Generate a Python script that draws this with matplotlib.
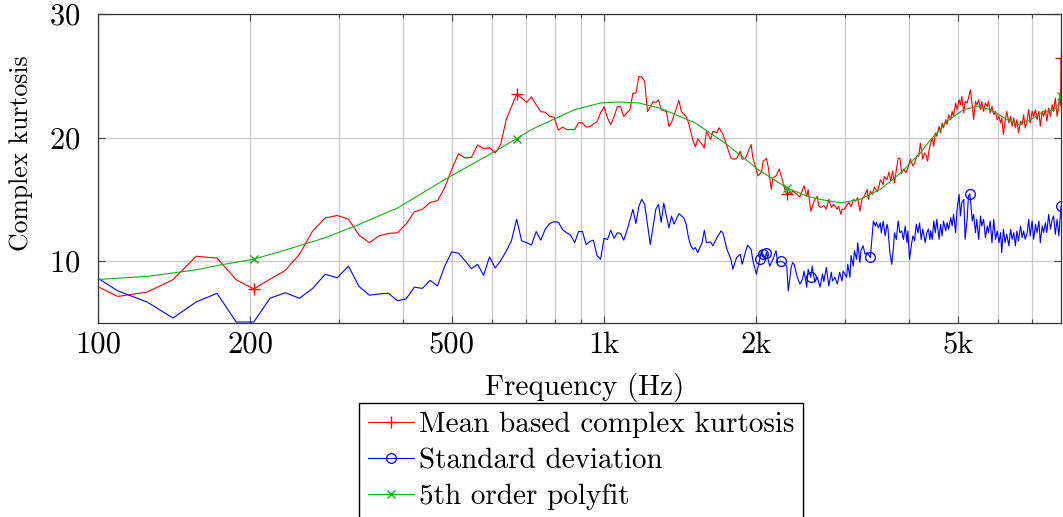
import numpy as np
import matplotlib
matplotlib.use("Agg")
import matplotlib.pyplot as plt

plt.rcParams["font.family"] = ["cmr10", "DejaVu Serif"]
plt.rcParams["axes.formatter.use_mathtext"] = True

BIN_HZ = 15.625  # spectrum bin width

# mean based complex kurtosis (bin index, value)
red_bins = [6, 7, 8, 9, 10, 11, 12, 13, 14, 15, 16, 17, 18, 19, 20, 21, 22, 23, 24, 25,
            26, 27, 28, 29, 30, 31, 32, 33, 34, 35, 36, 37, 38, 39, 40, 41, 42, 43, 44, 45,
            46, 47, 48, 49, 50, 51, 52, 53, 54, 55, 56, 57, 58, 59, 60, 61, 62, 63, 64, 65,
            66, 67, 68, 69, 70, 71, 72, 73, 74, 75, 76, 77, 78, 79, 80, 81, 82, 83, 84, 85,
            86, 87, 90, 91, 93, 94, 96, 97, 98, 100, 101, 102, 104, 105, 107, 108, 109, 110, 112, 114,
            115, 117, 119, 120, 122, 123, 125, 126, 128, 129, 131, 132, 134, 135, 137, 138, 140, 142, 144, 145,
            147, 149, 150, 151, 154, 156, 159, 161, 162, 164, 167, 169, 170, 172, 174, 176, 178, 180, 182, 185,
            186, 188, 189, 191, 193, 195, 197, 199, 201, 203, 205, 207, 209, 212, 213, 215, 217, 219, 222, 224,
            225, 228, 229, 232, 234, 236, 238, 240, 242, 244, 246, 248, 250, 253, 255, 258, 261, 263, 266, 268,
            270, 273, 275, 277, 279, 281, 283, 285, 287, 289, 291, 294, 296, 298, 300, 303, 305, 307, 310, 312,
            314, 317, 319, 322, 324, 326, 329, 331, 334, 336, 339, 342, 344, 347, 349, 352, 355, 357, 360, 363,
            366, 368, 371, 374, 377, 380, 383, 386, 389, 391, 394, 397, 400, 404, 407, 410, 413, 416, 419, 422,
            426, 429, 432, 435, 439, 442, 445, 449, 452, 456, 459, 463, 466, 470, 473, 477, 480, 484, 488, 492,
            495, 499, 503, 507, 510, 511, 512]
red_vals = [8.5, 7.15, 7.5, 8.5, 10.4, 10.25, 8.5, 7.75, 8.55, 9.25, 10.55, 12.45, 13.5, 13.7, 13.4, 12.1, 11.5, 12.05, 12.25, 12.3,
            13.0, 14.0, 14.2, 14.75, 14.9, 15.95, 17.4, 18.7, 18.35, 18.4, 19.4, 19.1, 19.2, 18.75, 19.45, 21.45, 22.5, 23.5, 23.2, 22.85,
            23.3, 22.65, 22.1, 22.05, 21.7, 21.65, 20.6, 20.85, 20.65, 20.65, 20.65, 21.2, 21.2, 20.85, 20.9, 21.1, 21.3, 22.0, 22.5, 21.6,
            21.05, 21.7, 22.5, 22.5, 21.7, 22.0, 22.25, 23.6, 23.6, 24.95, 24.9, 24.55, 22.1, 22.5, 22.9, 22.85, 23.05, 22.25, 22.2, 22.1,
            20.9, 21.2, 23.0, 22.1, 21.7, 21.2, 19.7, 19.25, 19.9, 19.45, 19.15, 20.5, 19.85, 20.5, 20.4, 20.8, 20.5, 20.25, 19.3, 18.35,
            18.25, 18.3, 18.9, 18.25, 18.35, 18.75, 19.45, 18.35, 17.4, 16.9, 17.2, 18.1, 18.3, 17.7, 15.8, 16.75, 16.9, 17.45, 16.6, 16.1,
            15.4, 15.6, 15.4, 15.7, 15.4, 15.2, 16.1, 15.25, 15.8, 14.05, 15.0, 15.25, 14.45, 14.35, 14.5, 14.2, 15.0, 14.35, 14.6, 14.2,
            14.45, 13.8, 14.2, 14.2, 14.5, 14.75, 14.4, 15.0, 14.85, 15.15, 14.05, 15.0, 15.25, 15.8, 15.0, 15.65, 15.4, 16.0, 15.65, 16.2,
            16.6, 16.2, 16.85, 16.6, 17.2, 16.5, 17.3, 16.35, 17.4, 18.3, 18.35, 17.1, 17.45, 17.15, 17.55, 18.25, 17.7, 17.95, 18.55, 18.5,
            19.55, 18.25, 18.75, 18.6, 18.1, 19.05, 19.57, 19.97, 19.3, 20.38, 20.1, 20.91, 20.38, 21.18, 20.78, 21.45, 21.05, 21.85, 21.45, 22.12,
            21.72, 22.8, 22.26, 23.06, 22.66, 23.33, 21.99, 22.93, 22.8, 23.2, 23.87, 22.53, 21.45, 22.93, 22.66, 23.06, 22.26, 22.93, 22.12, 22.8,
            22.53, 22.93, 21.99, 22.53, 21.85, 22.12, 21.45, 21.72, 21.18, 21.59, 20.24, 21.32, 22.12, 21.18, 21.72, 20.91, 21.59, 20.78, 21.45, 20.38,
            21.32, 21.05, 21.85, 20.78, 21.45, 22.26, 21.18, 22.12, 21.72, 22.26, 21.45, 22.12, 20.91, 22.12, 21.72, 22.26, 21.32, 22.39, 21.72, 22.66,
            22.12, 23.2, 21.72, 22.53, 23.6, 22.6, 26.4]

# standard deviation
blue_bins = [6, 7, 8, 9, 10, 11, 12, 13, 14, 15, 16, 17, 18, 19, 20, 21, 22, 23, 24, 25,
             26, 27, 28, 29, 30, 31, 32, 33, 34, 35, 36, 37, 38, 39, 40, 41, 42, 43, 44, 45,
             46, 47, 48, 49, 50, 51, 52, 53, 54, 55, 56, 57, 58, 59, 60, 61, 62, 63, 64, 65,
             66, 67, 68, 69, 70, 71, 73, 74, 75, 76, 77, 79, 81, 82, 83, 84, 85, 86, 87, 88,
             90, 92, 93, 94, 95, 96, 97, 98, 100, 101, 102, 104, 105, 107, 109, 110, 112, 114, 115, 117,
             119, 120, 122, 123, 125, 126, 128, 130, 131, 132, 133, 134, 136, 138, 140, 141, 143, 145, 147, 148,
             150, 151, 152, 154, 156, 158, 159, 161, 162, 164, 165, 167, 169, 171, 173, 174, 176, 178, 180, 181,
             183, 185, 187, 189, 190, 193, 194, 196, 197, 199, 200, 202, 203, 205, 206, 208, 210, 212, 215, 216,
             218, 220, 221, 223, 225, 226, 228, 230, 232, 233, 235, 237, 239, 240, 242, 244, 246, 248, 250, 252,
             254, 255, 257, 259, 261, 263, 265, 267, 269, 271, 273, 276, 278, 280, 282, 283, 285, 287, 289, 291,
             294, 296, 298, 300, 303, 305, 307, 310, 312, 314, 317, 319, 322, 324, 326, 329, 331, 334, 336, 338,
             339, 342, 344, 347, 349, 352, 355, 357, 360, 363, 366, 368, 371, 374, 377, 380, 383, 386, 389, 391,
             394, 397, 400, 404, 407, 410, 413, 416, 419, 422, 426, 429, 432, 435, 439, 442, 445, 449, 452, 456,
             459, 463, 466, 470, 473, 477, 480, 484, 488, 492, 495, 499, 503, 507, 512]
blue_vals = [9.35, 7.6, 6.7, 5.4, 6.7, 7.4, 5.08, 5.08, 7.0, 7.45, 7.0, 7.8, 8.95, 8.65, 9.6, 7.95, 7.25, 7.35, 7.4, 6.8,
             6.95, 7.9, 7.8, 8.45, 8.0, 9.6, 10.75, 10.65, 10.05, 9.4, 9.75, 8.85, 10.35, 9.45, 10.05, 10.8, 11.65, 13.4, 11.65, 11.5,
             11.3, 12.4, 11.7, 12.6, 13.05, 13.2, 13.15, 12.55, 12.3, 12.1, 11.5, 12.4, 12.4, 11.35, 11.6, 11.7, 10.45, 10.15, 11.85, 11.75,
             12.5, 11.85, 12.3, 12.25, 11.7, 12.45, 14.2, 13.05, 14.45, 15.0, 14.6, 11.35, 14.2, 14.6, 13.15, 14.7, 13.65, 12.7, 13.65, 13.0,
             13.85, 13.5, 13.0, 11.9, 11.25, 10.95, 11.1, 10.7, 11.5, 12.5, 11.5, 11.55, 11.25, 11.9, 12.45, 12.25, 10.95, 10.15, 9.35, 10.3,
             10.55, 9.75, 10.85, 11.3, 10.95, 10.05, 8.95, 10.15, 10.85, 10.55, 10.15, 10.7, 9.6, 10.15, 10.85, 9.9, 10.0, 9.9, 9.6, 7.6,
             9.5, 9.9, 9.75, 8.8, 8.15, 8.55, 9.2, 7.9, 9.35, 8.7, 9.6, 8.3, 8.7, 7.9, 8.95, 8.35, 9.5, 8.0, 9.1, 8.4,
             8.7, 8.15, 9.1, 8.4, 9.2, 8.7, 9.75, 8.7, 10.45, 9.6, 10.85, 10.15, 11.5, 9.9, 10.85, 11.25, 10.55, 10.7, 10.3, 11.25,
             13.25, 12.85, 13.15, 12.7, 13.1, 12.3, 13.25, 12.05, 13.0, 12.6, 10.7, 9.75, 11.25, 12.3, 11.75, 13.25, 12.3, 12.45, 11.75, 12.85,
             11.5, 12.45, 10.15, 11.25, 12.05, 11.65, 13.0, 12.3, 13.1, 11.75, 12.6, 11.5, 12.3, 12.6, 11.75, 12.45, 11.77, 13.25, 12.31, 13.39,
             11.77, 12.98, 12.04, 13.25, 12.45, 13.12, 12.58, 13.52, 12.85, 13.79, 12.31, 14.19, 15.4, 13.66, 14.73, 15.0, 11.77, 13.39, 15.27, 15.45,
             15.0, 13.25, 13.79, 12.31, 13.39, 11.77, 13.66, 12.85, 13.39, 11.91, 12.85, 12.31, 13.25, 11.5, 13.39, 11.77, 12.45, 11.5, 12.31, 10.7,
             12.58, 11.5, 12.18, 11.24, 12.58, 11.77, 12.31, 11.24, 12.45, 11.64, 12.85, 11.91, 12.45, 11.77, 12.31, 13.39, 12.04, 13.25, 11.77, 12.98,
             12.31, 13.25, 11.5, 12.85, 12.31, 13.12, 12.31, 13.79, 12.58, 13.39, 13.66, 12.18, 13.39, 12.04, 14.45]

# 5th order polyfit
fit_bins = [6, 8, 10, 11, 13, 15, 18, 21, 25, 31, 39, 43, 46, 51, 56, 63, 69, 75, 83, 97,
            112, 129, 147, 161, 171, 188, 205, 225, 247, 270, 283, 293, 305, 329, 350, 371, 401, 423, 446, 473,
            496, 505, 512]
fit_vals = [8.45, 8.77, 9.3, 9.65, 10.16, 10.9, 11.9, 12.98, 14.3, 16.6, 18.9, 19.92, 20.65, 21.5, 22.26, 22.8, 22.88, 22.8, 22.35, 21.18,
            19.44, 17.42, 15.94, 15.27, 15.0, 14.73, 15.0, 15.81, 17.15, 18.77, 19.84, 20.51, 21.32, 22.26, 22.53, 22.26, 21.45, 21.05, 21.45, 22.12,
            22.2, 22.66, 23.33]

red_marks = [13, 43, 147, 512]
blue_marks = [130, 132, 134, 143, 164, 215, 338, 512]
fit_marks = [13, 43, 147, 512]

xticks = [100, 200, 500, 1000, 2000, 5000]
xticklabels = ["100", "200", "500", "1k", "2k", "5k"]
xminor = [300, 400, 600, 700, 800, 900, 3000, 4000, 6000, 7000]
yticks = [10, 20, 30]

fig = plt.figure(figsize=(10.63, 5.17), dpi=100)
ax = fig.add_axes([98 / 1063, 1 - 323 / 517, 963 / 1063, 309 / 517])

ax.plot(np.array(red_bins) * BIN_HZ, red_vals, color="red", lw=0.8, marker="+", ms=9, mew=1.0,
        markevery=[red_bins.index(b) for b in red_marks], label="Mean based complex kurtosis")
ax.plot(np.array(blue_bins) * BIN_HZ, blue_vals, color="blue", lw=0.8, marker="o", ms=7, mew=0.9,
        mfc="none", markevery=[blue_bins.index(b) for b in blue_marks], label="Standard deviation")
ax.plot(np.array(fit_bins) * BIN_HZ, fit_vals, color="#1aaa1a", lw=0.8, marker="x", ms=6, mew=1.0,
        markevery=[fit_bins.index(b) for b in fit_marks], label="5th order polyfit")

ax.set_xscale("log")
ax.set_xlim(100, 8000)
ax.set_ylim(5, 30)
ax.set_xticks(xticks)
ax.set_xticklabels(xticklabels)
ax.set_xticks(xminor, minor=True)
ax.set_xticklabels([], minor=True)
ax.set_yticks(yticks)
ax.grid(True, which="both", color="#c8c8c8", lw=0.9)
ax.set_axisbelow(True)
ax.tick_params(which="both", direction="in", top=True, right=True, colors="#444444",
               labelcolor="black", labelsize=22)
ax.tick_params(which="major", length=5, width=0.8)
ax.tick_params(which="minor", length=3, width=0.8)
ax.tick_params(axis="x", pad=6)
ax.tick_params(axis="y", pad=13)
for s in ax.spines.values():
    s.set_color("#333333")
    s.set_linewidth(0.9)

ax.set_xlabel("Frequency (Hz)", fontsize=21)
ax.set_ylabel("Complex kurtosis", fontsize=18.5)
ax.xaxis.set_label_coords(0.505, -0.162)
ax.yaxis.set_label_coords(-0.067, 0.55)

ax.legend(loc="upper center", bbox_to_anchor=(0.5016, -0.259), fontsize=21, frameon=True,
          fancybox=False, edgecolor="black", framealpha=1, borderaxespad=0, borderpad=0.3,
          handlelength=1.6, handletextpad=0.15, labelspacing=0.33, numpoints=1)

plt.savefig("out.png", dpi=100)
